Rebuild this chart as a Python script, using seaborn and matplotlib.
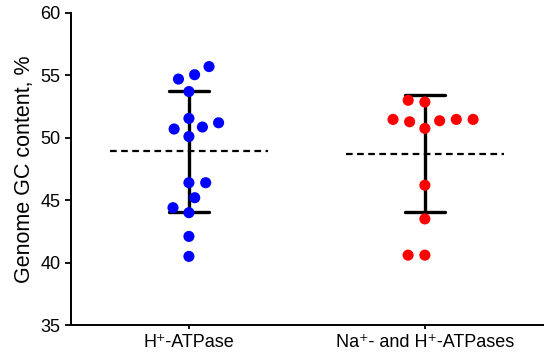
import pandas as pd
import numpy as np
import matplotlib
matplotlib.use('Agg')
import matplotlib.pyplot as plt
import seaborn as sns

sns.set_style('ticks')
plt.rcParams['font.family'] = ['Liberation Sans', 'DejaVu Sans']
plt.rcParams['text.color'] = 'black'
plt.rcParams['axes.labelcolor'] = 'black'
plt.rcParams['xtick.color'] = 'black'
plt.rcParams['ytick.color'] = 'black'
plt.rcParams['axes.edgecolor'] = 'black'

# genome GC content (%) per organism
h_only = [55.7, 55.05, 54.7, 53.7, 51.55, 51.2, 50.86, 50.7, 50.1,
          46.4, 46.4, 45.2, 44.4, 44.0, 42.1, 40.5]
na_and_h = [53.0, 52.86, 51.47, 51.47, 51.47, 51.36, 51.28, 50.75,
            46.2, 43.5, 40.6, 40.6]
groups = ['H\u207a-ATPase', 'Na\u207a- and H\u207a-ATPases']
colors = ['#0000ff', '#ff0000']

df = pd.DataFrame({
    'group': [groups[0]] * len(h_only) + [groups[1]] * len(na_and_h),
    'gc': h_only + na_and_h,
})

fig, ax = plt.subplots(figsize=(5.5, 3.58), dpi=100)
fig.subplots_adjust(left=0.129, right=0.987, bottom=0.092, top=0.964)

# dots (edge width only widens the swarm spacing, edge itself is invisible)
sns.swarmplot(data=df, x='group', y='gc', hue='group', order=groups,
              palette=colors, size=8, linewidth=3.5, edgecolor='none',
              legend=False, ax=ax, zorder=3)

# mean +/- SD
sns.pointplot(data=df, x='group', y='gc', order=groups, errorbar='sd',
              color='black', linestyle='none', markersize=0, capsize=0.17,
              err_kws={'linewidth': 2.4}, ax=ax, zorder=2)

# dashed mean line
means = df.groupby('group')['gc'].mean().reindex(groups)
for i, m in enumerate(means):
    ax.hlines(m, i - 0.335, i + 0.335, colors='black', linestyles=(0, (3, 2)),
              linewidth=1.6, zorder=1)

ax.set_xlim(-0.5, 1.5)
ax.set_ylim(35, 60)
ax.set_yticks([35, 40, 45, 50, 55, 60])
ax.set_xlabel('')
ax.set_ylabel('Genome GC content, %', fontsize=15.5)
ax.tick_params(axis='y', labelsize=13, length=4, width=1.3)
ax.tick_params(axis='x', labelsize=13, length=3, width=1.3)
for s in ['left', 'bottom']:
    ax.spines[s].set_linewidth(1.4)
sns.despine(ax=ax)

plt.savefig('out.png', dpi=100)
